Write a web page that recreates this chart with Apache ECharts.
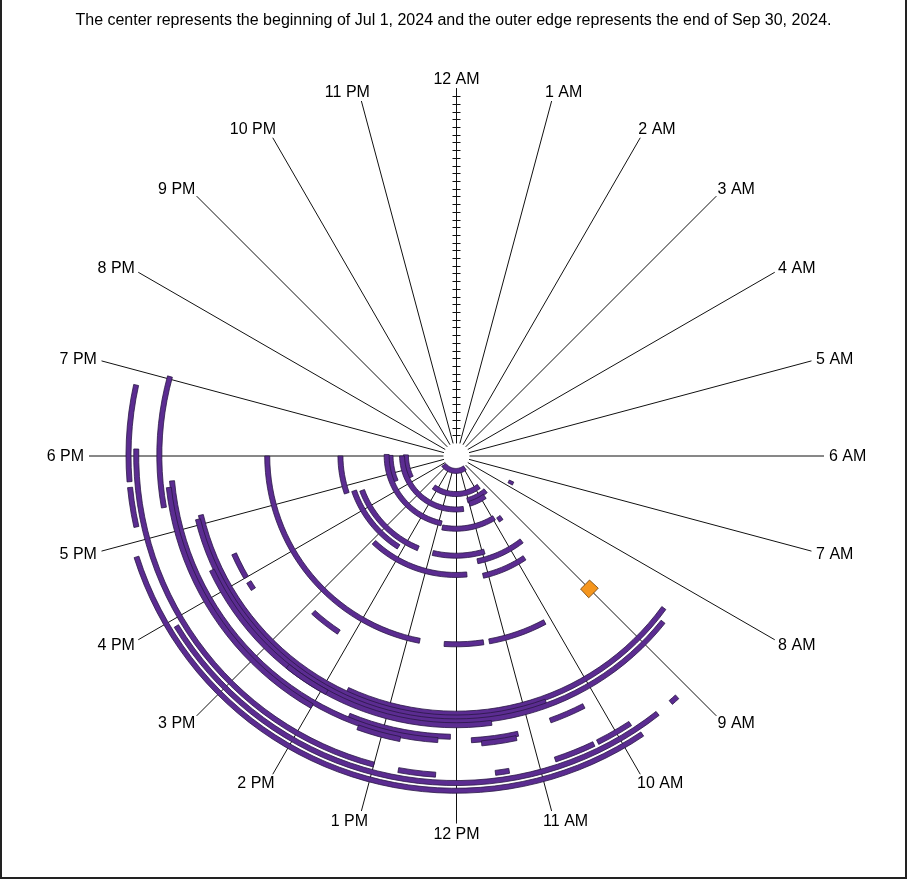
<!DOCTYPE html>
<html><head><meta charset="utf-8">
<script src="https://cdn.jsdelivr.net/npm/echarts/dist/echarts.min.js"></script>
<style>
html,body{margin:0;padding:0;background:#fff;}
#chart{position:absolute;left:0;top:0;width:907px;height:879px;}
#frame{position:absolute;left:0;top:-2px;width:903px;height:877px;border:2px solid #222;pointer-events:none;}
</style></head><body>
<div id="chart"></div><div id="frame"></div>
<script>
const titleText = 'The center represents the beginning of Jul 1, 2024 and the outer edge represents the end of Sep 30, 2024.';
const rangeStart = '2024-07-01 00:00';
const rangeEnd = '2024-10-01 00:00';
const hourLabels = ['12 AM','1 AM','2 AM','3 AM','4 AM','5 AM','6 AM','7 AM','8 AM','9 AM','10 AM','11 AM',
  '12 PM','1 PM','2 PM','3 PM','4 PM','5 PM','6 PM','7 PM','8 PM','9 PM','10 PM','11 PM'];
const dayTicks = [2,4,6,8,10,12,14,16,18,20,22,24,26,28,30,32,34,36,38,40,42,44,46,48,50,52,54,56,58,60,
  62,64,66,68,70,72,74,76,78,80,82,84,86,88,90];
const purpleEvents = [
  ['2024-07-01 09:40','2024-07-01 15:40'],
  ['2024-07-07 09:35','2024-07-07 14:25'],
  ['2024-07-09 09:20','2024-07-09 11:05'],
  ['2024-07-10 09:40','2024-07-10 11:00'],
  ['2024-07-10 16:20','2024-07-10 18:05'],
  ['2024-07-11 11:30','2024-07-11 18:00'],
  ['2024-07-13 07:38','2024-07-13 07:50'],
  ['2024-07-14 16:30','2024-07-14 18:02'],
  ['2024-07-15 12:50','2024-07-15 18:05'],
  ['2024-07-16 09:55','2024-07-16 12:45'],
  ['2024-07-17 09:35','2024-07-17 09:48'],
  ['2024-07-23 13:30','2024-07-23 16:40'],
  ['2024-07-23 10:55','2024-07-23 12:55'],
  ['2024-07-25 09:30','2024-07-25 11:15'],
  ['2024-07-25 14:10','2024-07-25 16:45'],
  ['2024-07-27 16:45','2024-07-27 18:00'],
  ['2024-07-28 11:40','2024-07-28 14:55'],
  ['2024-07-29 09:45','2024-07-29 11:10'],
  ['2024-08-15 12:45','2024-08-15 18:00'],
  ['2024-08-15 11:27','2024-08-15 12:15'],
  ['2024-08-15 10:08','2024-08-15 11:20'],
  ['2024-08-21 14:15','2024-08-21 14:50'],
  ['2024-08-29 16:00','2024-08-29 16:25'],
  ['2024-08-29 15:47','2024-08-29 15:55'],
  ['2024-09-02 08:25','2024-09-02 13:40'],
  ['2024-09-03 10:40','2024-09-03 17:08'],
  ['2024-09-04 08:35','2024-09-04 17:05'],
  ['2024-09-05 11:30','2024-09-05 16:20'],
  ['2024-09-05 13:55','2024-09-05 14:35'],
  ['2024-09-08 12:05','2024-09-08 13:30'],
  ['2024-09-08 10:12','2024-09-08 10:42'],
  ['2024-09-09 12:15','2024-09-09 17:40'],
  ['2024-09-09 11:10','2024-09-09 11:48'],
  ['2024-09-10 14:00','2024-09-10 17:35'],
  ['2024-09-10 12:45','2024-09-10 13:20'],
  ['2024-09-10 11:12','2024-09-10 11:40'],
  ['2024-09-12 17:20','2024-09-12 19:02'],
  ['2024-09-18 13:00','2024-09-18 18:05'],
  ['2024-09-18 12:15','2024-09-18 12:42'],
  ['2024-09-18 11:22','2024-09-18 11:32'],
  ['2024-09-18 10:18','2024-09-18 10:48'],
  ['2024-09-18 09:48','2024-09-18 10:15'],
  ['2024-09-20 09:28','2024-09-20 15:55'],
  ['2024-09-20 17:42','2024-09-20 18:50'],
  ['2024-09-20 17:10','2024-09-20 17:38'],
  ['2024-09-20 09:10','2024-09-20 09:16'],
  ['2024-09-22 09:45','2024-09-22 16:50']
];
const orangeEvents = [
  ['2024-08-15 08:52','2024-08-15 09:08']
];

function parseTime(s) {
  const [d, t] = s.split(' ');
  const [y, m, dd] = d.split('-').map(Number);
  const [hh, mm] = t.split(':').map(Number);
  return Date.UTC(y, m - 1, dd, hh, mm);
}
const t0 = parseTime(rangeStart);
const totalDays = (parseTime(rangeEnd) - t0) / 86400000;
function toDays(s) { return (parseTime(s) - t0) / 86400000; }

function makeRender(fill, stroke, thick) {
  return function (params, api) {
    const s = api.value(0), e = api.value(1);
    const cs = params.coordSys;
    const cx = cs.cx, cy = cs.cy;
    const n = Math.max(2, Math.ceil((e - s) * 24 * 6));
    const outer = [], inner = [];
    for (let i = 0; i <= n; i++) {
      const t = s + (e - s) * i / n;
      const hr = (t - Math.floor(t)) * 24;
      const p = api.coord([t, hr]);
      const dx = p[0] - cx, dy = p[1] - cy;
      const L = Math.hypot(dx, dy) || 1;
      const ux = dx / L, uy = dy / L;
      outer.push([p[0] + ux * thick / 2, p[1] + uy * thick / 2]);
      inner.push([p[0] - ux * thick / 2, p[1] - uy * thick / 2]);
    }
    return {
      type: 'polygon',
      shape: { points: outer.concat(inner.reverse()) },
      style: { fill: fill, stroke: stroke, lineWidth: 0.8 }
    };
  };
}

const labelFont = '16px "Liberation Sans", Arial, Helvetica, sans-serif';
const measureCtx = document.createElement('canvas').getContext('2d');
measureCtx.font = labelFont;

const chart = echarts.init(document.getElementById('chart'), null, { renderer: 'canvas' });
const center = [456.5, 456];
const radius = [13, 367.5];

chart.setOption({
  animation: false,
  title: {
    text: titleText, left: 'center', top: 8,
    textStyle: { fontSize: 16, fontWeight: 'normal', color: '#000', fontFamily: '"Liberation Sans", Arial, Helvetica, sans-serif' }
  },
  polar: { center: center, radius: radius },
  angleAxis: {
    type: 'value', min: 0, max: 24, interval: 1, startAngle: 90, clockwise: true,
    axisLine: { show: false }, axisTick: { show: false }, axisLabel: { show: false },
    splitLine: { show: true, lineStyle: { color: '#111', width: 1 } }
  },
  radiusAxis: {
    type: 'value', min: 0, max: totalDays, interval: 2,
    axisLine: { show: true, lineStyle: { color: '#111', width: 1 } },
    axisTick: { show: false }, axisLabel: { show: false }, splitLine: { show: false }
  },
  series: [
    {
      type: 'custom', coordinateSystem: 'polar', silent: true, z: 3,
      data: dayTicks.map(d => [d, 0]),
      renderItem: function (params, api) {
        const p = api.coord([api.value(0), 0]);
        const y = Math.round(p[1]) + 0.5;
        return { type: 'line', shape: { x1: p[0] - 4, y1: y, x2: p[0] + 4, y2: y },
          style: { stroke: '#111', lineWidth: 1 } };
      }
    },
    {
      type: 'custom', coordinateSystem: 'polar', silent: true, z: 3,
      data: hourLabels.map((l, i) => [totalDays, i]),
      renderItem: function (params, api) {
        const h = api.value(1);
        const label = hourLabels[params.dataIndex];
        const p = api.coord([totalDays, h]);
        const cs = params.coordSys;
        const dx = p[0] - cs.cx, dy = p[1] - cs.cy;
        const L = Math.hypot(dx, dy);
        const s = dx / L, c = -dy / L;
        const w = measureCtx.measureText(label).width;
        const sx = Math.abs(s) < 1e-6 ? 0 : Math.sign(s) * Math.sqrt(Math.abs(s));
        return {
          type: 'text',
          x: p[0] + sx * (w / 2 + 5),
          y: p[1] - c * 10 + 1,
          style: { text: label, font: labelFont, fill: '#000', align: 'center', verticalAlign: 'middle' }
        };
      }
    },
    {
      type: 'custom', coordinateSystem: 'polar', z: 5,
      renderItem: makeRender('#5b2c91', '#2a1745', 5),
      data: purpleEvents.map(ev => [toDays(ev[0]), toDays(ev[1])])
    },
    {
      type: 'custom', coordinateSystem: 'polar', z: 6,
      renderItem: makeRender('#f5961e', '#6b3f0c', 12),
      data: orangeEvents.map(ev => [toDays(ev[0]), toDays(ev[1])])
    }
  ]
});
</script>
</body></html>
